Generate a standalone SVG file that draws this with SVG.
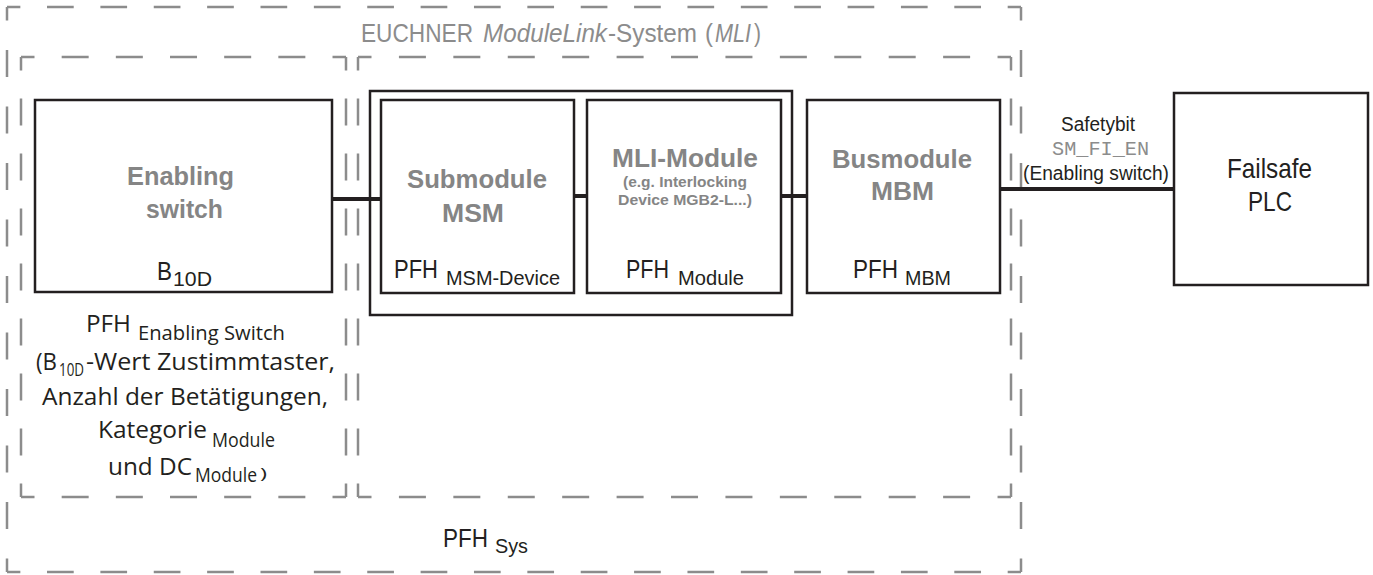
<svg xmlns="http://www.w3.org/2000/svg" width="1373" height="575" viewBox="0 0 1373 575">
<style>
.dash{stroke:#8c8c8c;stroke-width:2.5;fill:none}
.box{fill:#fff;stroke:#231f20;stroke-width:2.5}
.conn{stroke:#231f20;stroke-width:4;fill:none}
.gb{font-family:"Liberation Sans",Arial,sans-serif;font-weight:bold;fill:#858585}
.lt{font-family:"Liberation Sans",Arial,sans-serif;fill:#231f20}
.gt{font-family:"Liberation Sans",Arial,sans-serif;fill:#8c8c8c;font-size:26px}
.my{font-family:"Open Sans","Noto Sans",sans-serif;fill:#231f20}
.mono{font-family:"Liberation Mono","Courier New",monospace;fill:#8c8c8c;font-size:20px}
</style>
<rect width="1373" height="575" fill="#fff"/>
<g id="frames">
  <g id="frame-system">
    <line class="dash" x1="7" y1="7" x2="1021" y2="7" stroke-dasharray="26.7 26.67" stroke-dashoffset="13.35"/>
    <line class="dash" x1="7" y1="572" x2="1021" y2="572" stroke-dasharray="26.7 26.67" stroke-dashoffset="13.35"/>
    <line class="dash" x1="7" y1="7" x2="7" y2="572" stroke-dasharray="27 29.5" stroke-dashoffset="13.5"/>
    <line class="dash" x1="1021" y1="7" x2="1021" y2="572" stroke-dasharray="27 29.5" stroke-dashoffset="13.5"/>
  </g>
  <g id="frame-enabling">
    <line class="dash" x1="21" y1="57" x2="346" y2="57" stroke-dasharray="27 27.17" stroke-dashoffset="13.5"/>
    <line class="dash" x1="21" y1="497" x2="346" y2="497" stroke-dasharray="27 27.17" stroke-dashoffset="13.5"/>
    <line class="dash" x1="21" y1="57" x2="21" y2="497" stroke-dasharray="27 28" stroke-dashoffset="13.5"/>
    <line class="dash" x1="346" y1="57" x2="346" y2="497" stroke-dasharray="27 28" stroke-dashoffset="13.5"/>
  </g>
  <g id="frame-mli">
    <line class="dash" x1="358" y1="57" x2="1011" y2="57" stroke-dasharray="27 27.42" stroke-dashoffset="13.5"/>
    <line class="dash" x1="358" y1="497" x2="1011" y2="497" stroke-dasharray="27 27.42" stroke-dashoffset="13.5"/>
    <line class="dash" x1="358" y1="57" x2="358" y2="497" stroke-dasharray="27 28" stroke-dashoffset="13.5"/>
    <line class="dash" x1="1011" y1="57" x2="1011" y2="497" stroke-dasharray="27 28" stroke-dashoffset="13.5"/>
  </g>
</g>
<g id="title">
  <text class="gt" y="42"><tspan x="361" textLength="112" lengthAdjust="spacingAndGlyphs">EUCHNER</tspan><tspan x="483" font-style="italic" textLength="124" lengthAdjust="spacingAndGlyphs">ModuleLink</tspan><tspan x="608" textLength="89" lengthAdjust="spacingAndGlyphs">-System</tspan><tspan x="705" textLength="8" lengthAdjust="spacingAndGlyphs">(</tspan><tspan x="715" font-style="italic" textLength="36" lengthAdjust="spacingAndGlyphs">MLI</tspan><tspan x="754" textLength="7" lengthAdjust="spacingAndGlyphs">)</tspan></text>
</g>
<g id="module-group">
  <rect class="box" x="370" y="91" width="422" height="224"/>
</g>
<g id="connectors">
  <line class="conn" x1="332" y1="199" x2="381" y2="199"/>
  <line class="conn" x1="574" y1="196" x2="587" y2="196"/>
  <line class="conn" x1="781" y1="196" x2="807" y2="196"/>
  <line class="conn" x1="1000" y1="189" x2="1174" y2="189"/>
</g>
<g id="enabling-switch">
  <rect class="box" x="35" y="100" width="297" height="192"/>
  <text class="gb" x="127" y="185" font-size="26" textLength="107" lengthAdjust="spacingAndGlyphs">Enabling</text>
  <text class="gb" x="146" y="218" font-size="26" textLength="77" lengthAdjust="spacingAndGlyphs">switch</text>
  <text class="lt" x="157" y="280" font-size="26" textLength="15" lengthAdjust="spacingAndGlyphs">B</text>
  <text class="lt" x="173" y="286" font-size="21" textLength="39" lengthAdjust="spacingAndGlyphs">10D</text>
</g>
<g id="submodule-msm">
  <rect class="box" x="381" y="100" width="193" height="193"/>
  <text class="gb" x="407" y="188" font-size="26" textLength="140" lengthAdjust="spacingAndGlyphs">Submodule</text>
  <text class="gb" x="442" y="222" font-size="26" textLength="62" lengthAdjust="spacingAndGlyphs">MSM</text>
  <text class="lt" x="394" y="278" font-size="26" textLength="44" lengthAdjust="spacingAndGlyphs">PFH</text>
  <text class="lt" x="446" y="285" font-size="21" textLength="114" lengthAdjust="spacingAndGlyphs">MSM-Device</text>
</g>
<g id="mli-module">
  <rect class="box" x="587" y="100" width="194" height="193"/>
  <text class="gb" x="612" y="167" font-size="26" textLength="146" lengthAdjust="spacingAndGlyphs">MLI-Module</text>
  <text class="gb" x="623" y="187" font-size="15.5" textLength="124" lengthAdjust="spacingAndGlyphs">(e.g. Interlocking</text>
  <text class="gb" x="618" y="205" font-size="15.5" textLength="134" lengthAdjust="spacingAndGlyphs">Device MGB2-L...)</text>
  <text class="lt" x="626" y="278" font-size="26" textLength="43" lengthAdjust="spacingAndGlyphs">PFH</text>
  <text class="lt" x="678" y="285" font-size="21" textLength="66" lengthAdjust="spacingAndGlyphs">Module</text>
</g>
<g id="busmodule-mbm">
  <rect class="box" x="807" y="100" width="193" height="193"/>
  <text class="gb" x="832" y="168" font-size="26" textLength="140" lengthAdjust="spacingAndGlyphs">Busmodule</text>
  <text class="gb" x="871" y="200" font-size="26" textLength="63" lengthAdjust="spacingAndGlyphs">MBM</text>
  <text class="lt" x="853" y="278" font-size="26" textLength="45" lengthAdjust="spacingAndGlyphs">PFH</text>
  <text class="lt" x="905" y="285" font-size="21" textLength="46" lengthAdjust="spacingAndGlyphs">MBM</text>
</g>
<g id="failsafe-plc">
  <rect class="box" x="1174" y="93" width="194" height="192"/>
  <text class="lt" x="1227" y="178" font-size="28" textLength="85" lengthAdjust="spacingAndGlyphs">Failsafe</text>
  <text class="lt" x="1248" y="211" font-size="28" textLength="44" lengthAdjust="spacingAndGlyphs">PLC</text>
</g>
<g id="safetybit-label">
  <text class="lt" x="1061" y="131" font-size="20" textLength="74" lengthAdjust="spacingAndGlyphs">Safetybit</text>
  <text class="mono" x="1052" y="155" textLength="97" lengthAdjust="spacingAndGlyphs">SM_FI_EN</text>
  <text class="lt" x="1023" y="180" font-size="20" textLength="146" lengthAdjust="spacingAndGlyphs">(Enabling switch)</text>
</g>
<g id="enabling-pfh-note">
  <text class="my" x="86" y="332" font-size="24" textLength="45" lengthAdjust="spacingAndGlyphs">PFH</text>
  <text class="my" x="138" y="340" font-size="20" textLength="147" lengthAdjust="spacingAndGlyphs">Enabling Switch</text>
  <text class="my" font-size="24"><tspan x="36" y="370" textLength="21" lengthAdjust="spacingAndGlyphs">(B</tspan><tspan x="59" y="376" font-size="19" textLength="25" lengthAdjust="spacingAndGlyphs">10D</tspan><tspan x="86" y="370" textLength="249" lengthAdjust="spacingAndGlyphs">-Wert Zustimmtaster,</tspan></text>
  <text class="my" x="42" y="405" font-size="24" textLength="286" lengthAdjust="spacingAndGlyphs">Anzahl der Betätigungen,</text>
  <text class="my" x="98" y="438" font-size="24" textLength="109" lengthAdjust="spacingAndGlyphs">Kategorie</text>
  <text class="my" x="212" y="447" font-size="20" textLength="63" lengthAdjust="spacingAndGlyphs">Module</text>
  <text class="my" font-size="24"><tspan x="108" y="475" textLength="84" lengthAdjust="spacingAndGlyphs">und DC</tspan><tspan x="195" y="482" font-size="20" textLength="62" lengthAdjust="spacingAndGlyphs">Module</tspan><tspan x="260" y="478" font-size="15" textLength="7" lengthAdjust="spacingAndGlyphs">)</tspan></text>
</g>
<g id="pfh-sys">
  <text class="lt" x="443" y="547" font-size="26" textLength="45" lengthAdjust="spacingAndGlyphs">PFH</text>
  <text class="lt" x="495" y="553" font-size="21" textLength="33" lengthAdjust="spacingAndGlyphs">Sys</text>
</g>
</svg>
